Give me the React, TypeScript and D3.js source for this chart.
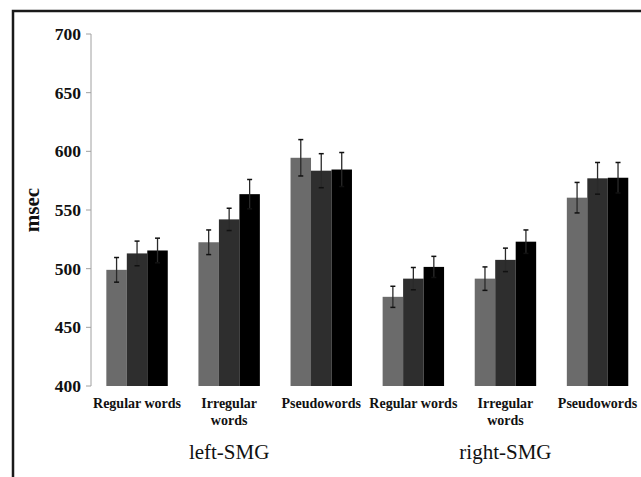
import React from "react";
import * as d3 from "d3";

const categories = ["Regular words", "Irregular words", "Pseudowords", "Regular words", "Irregular words", "Pseudowords"];
const categoryLines = [["Regular words"], ["Irregular", "words"], ["Pseudowords"], ["Regular words"], ["Irregular", "words"], ["Pseudowords"]];
const regions = ["left-SMG", "right-SMG"];
const seriesKeys = ["s1", "s2", "s3"];
const means1 = [499, 522.5, 594.5, 476, 491.5, 560.5];
const means2 = [513, 542, 583.5, 491.5, 507.5, 577];
const means3 = [515.5, 563.5, 584.5, 501.5, 523, 577.5];
const errs1 = [10.5, 10.5, 15.5, 9, 10, 13];
const errs2 = [10.5, 9.5, 14.5, 9.5, 10, 13.5];
const errs3 = [10.5, 12.5, 14.5, 9, 10, 13];
const yTicks = [400, 450, 500, 550, 600, 650, 700];

const colors = ["#6b6b6b", "#2e2e2e", "#000000"];

export default function App() {
  const W = 641, H = 477;
  const x0 = 91, bandW = 92.1;
  const x = d3.scaleBand<number>().domain(d3.range(categories.length)).range([x0, x0 + bandW * categories.length]).paddingInner(0.333).paddingOuter(0.1665);
  const xs = d3.scaleBand<string>().domain(seriesKeys).range([0, x.bandwidth()]);
  const y = d3.scaleLinear().domain([400, 700]).range([386, 34]);
  const means = [means1, means2, means3];
  const errs = [errs1, errs2, errs3];
  const serif = "'Liberation Serif', 'Times New Roman', serif";

  return (
    <svg width={W} height={H} style={{ position: "absolute", left: 0, top: 0, background: "#fff" }}>
      <rect x={13} y={11} width={700} height={600} fill="none" stroke="#1a1a1a" strokeWidth={2.5} />
      {/* y axis */}
      <line x1={x0} x2={x0} y1={y(700)} y2={y(400)} stroke="#a0a0a0" strokeWidth={1} />
      {yTicks.map((t) => (
        <g key={t}>
          <line x1={x0 - 5} x2={x0} y1={y(t)} y2={y(t)} stroke="#a0a0a0" strokeWidth={1} />
          <text x={81} y={y(t)} dy="0.35em" textAnchor="end" fontFamily={serif} fontWeight="bold" fontSize={17.5} fill="#111">{t}</text>
        </g>
      ))}
      <text transform={`translate(39,210) rotate(-90)`} textAnchor="middle" fontFamily={serif} fontWeight="bold" fontSize={21} fill="#111">msec</text>
      {/* bars */}
      {seriesKeys.map((k, si) => (
        <g key={k}>
          {categories.map((c, ci) => {
            const bx = (x(ci) as number) + (xs(k) as number);
            const v = means[si][ci];
            return <rect key={ci} x={bx} y={y(v)} width={xs.bandwidth()} height={y(400) - y(v)} fill={colors[si]} />;
          })}
        </g>
      ))}
      {/* error bars */}
      {seriesKeys.map((k, si) => (
        <g key={k + "e"}>
          {categories.map((c, ci) => {
            const cx = (x(ci) as number) + (xs(k) as number) + xs.bandwidth() / 2;
            const v = means[si][ci];
            const e = errs[si][ci];
            return (
              <g key={ci}>
                <line x1={cx} x2={cx} y1={y(v + e)} y2={y(v - e)} stroke="#2a2a2a" strokeWidth={1.3} />
                <line x1={cx - 2.5} x2={cx + 2.5} y1={y(v + e)} y2={y(v + e)} stroke="#111" strokeWidth={1.5} />
                <line x1={cx - 2.5} x2={cx + 2.5} y1={y(v - e)} y2={y(v - e)} stroke="#111" strokeWidth={1.5} />
              </g>
            );
          })}
        </g>
      ))}
      {/* category labels */}
      {categoryLines.map((lines, ci) => (
        <text key={ci} x={(x(ci) as number) + x.bandwidth() / 2} y={408} textAnchor="middle" fontFamily={serif} fontWeight="bold" fontSize={14} fill="#111">
          {lines.map((l, li) => (
            <tspan key={li} x={(x(ci) as number) + x.bandwidth() / 2} dy={li === 0 ? 0 : 16.5}>{l}</tspan>
          ))}
        </text>
      ))}
      {regions.map((r, ri) => {
        const a = x(ri * 3) as number;
        const b = (x(ri * 3 + 2) as number) + x.bandwidth();
        return (
          <text key={r} x={(a + b) / 2} y={459} textAnchor="middle" fontFamily={serif} fontSize={21} fill="#111">{r}</text>
        );
      })}
    </svg>
  );
}
